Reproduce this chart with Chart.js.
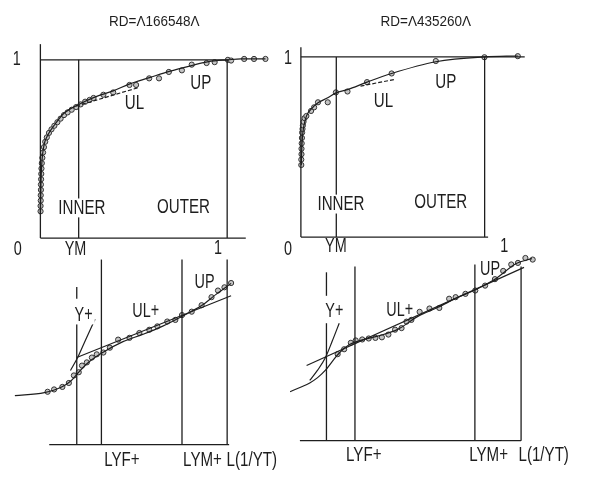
<!DOCTYPE html>
<html>
<head>
<meta charset="utf-8">
<script src="https://cdn.jsdelivr.net/npm/chart.js@4"></script>
<style>
html, body { margin: 0; background: #fff; }
#wrap { position: relative; width: 589px; height: 479px; }
#wrap canvas { position: absolute; left: 0; top: 0; }
</style>
</head>
<body>
<div id="wrap">
  <canvas id="tl" width="589" height="479"></canvas>
  <canvas id="tr" width="589" height="479"></canvas>
  <canvas id="bl" width="589" height="479"></canvas>
  <canvas id="br" width="589" height="479"></canvas>
</div>
<script>
// top left: RD=166548, normalised Y vs U
var tlCurveX = [0, 0.003, 0.008, 0.02, 0.04, 0.077, 0.132, 0.214, 0.297, 0.407, 0.5, 0.61, 0.72, 0.846, 0.94, 1.049, 1.121, 1.258];
var tlCurveY = [0.13, 0.30, 0.42, 0.52, 0.575, 0.632, 0.70, 0.749, 0.788, 0.826, 0.865, 0.90, 0.935, 0.968, 0.99, 1.0, 1.005, 1.005];
var tlPtsX = [0.001, 0.001, 0.002, 0.002, 0.003, 0.003, 0.004, 0.005, 0.006, 0.008, 0.011, 0.015, 0.02, 0.027, 0.036, 0.048, 0.062, 0.078, 0.095, 0.113, 0.132, 0.152, 0.175, 0.2, 0.225, 0.25, 0.275,
              0.297, 0.352, 0.407, 0.498, 0.535, 0.608, 0.663, 0.718, 0.791, 0.846, 0.929, 0.974, 1.048, 1.066, 1.139, 1.194, 1.258];
var tlPtsY = [0.15, 0.18, 0.21, 0.24, 0.27, 0.30, 0.33, 0.36, 0.39, 0.42, 0.45, 0.48, 0.51, 0.54, 0.565, 0.59, 0.61, 0.63, 0.65, 0.67, 0.69, 0.705, 0.72, 0.735, 0.75, 0.765, 0.775,
              0.786, 0.804, 0.817, 0.859, 0.859, 0.896, 0.896, 0.932, 0.941, 0.973, 0.982, 0.987, 1.0, 0.996, 1.005, 1.005, 1.005];
var tlUlX = [0.2, 0.55];
var tlUlY = [0.74, 0.845];

// top right: RD=435260
var trCurveX = [0.002, 0.004, 0.008, 0.015, 0.028, 0.052, 0.084, 0.132, 0.173, 0.229, 0.325, 0.446, 0.663, 0.902, 1.066];
var trCurveY = [0.40, 0.48, 0.56, 0.62, 0.674, 0.712, 0.745, 0.773, 0.80, 0.818, 0.86, 0.908, 0.973, 1.0, 1.005];
var trPtsX = [0.002, 0.002, 0.003, 0.003, 0.004, 0.005, 0.006, 0.008, 0.01, 0.013, 0.018, 0.027, 0.05, 0.065, 0.084, 0.132, 0.172, 0.229, 0.325, 0.446, 0.663, 0.902, 1.066];
var trPtsY = [0.40, 0.43, 0.46, 0.49, 0.52, 0.55, 0.58, 0.60, 0.62, 0.64, 0.66, 0.672, 0.70, 0.72, 0.748, 0.748, 0.803, 0.808, 0.86, 0.908, 0.977, 0.998, 1.004];
var trUlX = [0.293, 0.462];
var trUlY = [0.838, 0.875];

// bottom left: log plot, Y+ / UL+ / UP fits
var blCurveX = [-0.191, -0.027, 0.066, 0.12, 0.164, 0.219, 0.29, 0.41, 0.519, 0.628, 0.738, 0.847, 0.929, 1.011];
var blCurveY = [0.273, 0.29, 0.32, 0.355, 0.405, 0.46, 0.51, 0.575, 0.615, 0.66, 0.716, 0.776, 0.84, 0.9];
var blPtsX = [-0.009, 0.027, 0.073, 0.109, 0.137, 0.164, 0.182, 0.209, 0.237, 0.264, 0.301, 0.337, 0.383, 0.446, 0.501, 0.556, 0.601, 0.656, 0.701, 0.738, 0.792, 0.847, 0.902, 0.938, 0.974, 1.011];
var blPtsY = [0.295, 0.308, 0.322, 0.344, 0.386, 0.404, 0.441, 0.459, 0.486, 0.504, 0.514, 0.541, 0.586, 0.596, 0.623, 0.641, 0.66, 0.687, 0.696, 0.723, 0.742, 0.778, 0.823, 0.86, 0.878, 0.902];
var blUlX = [0.153, 1.011];
var blUlY = [0.486, 0.831];
var blYX = [0.118, 0.158, 0.2, 0.255];
var blYY = [0.414, 0.486, 0.58, 0.70];

// bottom right
var brCurveX = [-0.05, 0, 0.05, 0.09, 0.13, 0.165, 0.2, 0.25, 0.3, 0.4, 0.5, 0.6, 0.7, 0.8, 0.9, 1.0, 1.1, 1.18];
var brCurveY = [0.25, 0.272, 0.295, 0.322, 0.36, 0.405, 0.448, 0.49, 0.51, 0.535, 0.57, 0.635, 0.68, 0.73, 0.775, 0.83, 0.905, 0.93];
var brPtsX = [0.192, 0.225, 0.259, 0.284, 0.317, 0.35, 0.384, 0.417, 0.45, 0.484, 0.517, 0.542, 0.567, 0.609, 0.659, 0.709, 0.759, 0.792, 0.842, 0.892, 0.942, 0.992, 1.034, 1.075, 1.109, 1.147, 1.184];
var brPtsY = [0.442, 0.467, 0.5, 0.512, 0.517, 0.522, 0.525, 0.528, 0.542, 0.567, 0.575, 0.608, 0.617, 0.658, 0.675, 0.678, 0.725, 0.733, 0.75, 0.767, 0.792, 0.825, 0.867, 0.9, 0.908, 0.933, 0.925];
var brUlX = [0.034, 1.14];
var brUlY = [0.384, 0.885];
var brYX = [0.05, 0.09, 0.13, 0.165, 0.2];
var brYY = [0.308, 0.36, 0.425, 0.51, 0.6];

// frame lines per panel: [x1, y1, x2, y2]
var tlGuides = [[0, 0, 0, 1.088], [0, 0, 1.148, 0], [0, 1, 1.049, 1], [0.214, 0, 0.214, 1], [1.044, 0, 1.044, 1]];
var trGuides = [[0, 0, 0, 1.054], [0, 0, 0.92, 0], [0, 1, 1.1, 1], [0.174, 0, 0.174, 1], [0.903, 0, 0.903, 1]];
var blGuides = [[0, 0, 1.0, 0], [0.153, 0, 0.153, 0.689], [0.153, 0.814, 0.153, 0.88], [0.29, 0, 0.29, 1.033], [0.738, 0, 0.738, 1.033], [0.989, 0, 0.989, 1.033]];
var brGuides = [[0, 0, 1.125, 0], [0.135, 0, 0.135, 0.6], [0.135, 0.74, 0.135, 0.86], [0.28, 0, 0.28, 0.89], [0.89, 0, 0.89, 0.9], [1.125, 0, 1.125, 0.89]];

// text: [label, x, y, size, white box, x squeeze]
var tlTexts = [['RD=\u039b166548\u039b', 0.637, 1.214, 15, false, 0.9], ['1', -0.132, 1.0, 20], ['0', -0.126, -0.066, 20], ['YM', 0.196, -0.066, 20], ['1', 0.993, -0.057, 20],
               ['INNER', 0.232, 0.169, 21, true], ['OUTER', 0.8, 0.172, 21, true], ['UL', 0.526, 0.754, 21], ['UP', 0.897, 0.868, 21]];
var trTexts = [['RD=\u039b435260\u039b', 0.614, 1.196, 15, false, 0.9], ['1', -0.063, 0.99, 20], ['0', -0.063, -0.07, 20], ['YM', 0.172, -0.053, 20], ['1', 1.0, -0.053, 20],
               ['INNER', 0.197, 0.183, 21, true], ['OUTER', 0.687, 0.192, 21, true], ['UL', 0.406, 0.754, 21], ['UP', 0.712, 0.862, 21]];
var blTexts = [['Y+', 0.191, 0.721, 20, true], ['UL+', 0.536, 0.743, 20], ['UP', 0.863, 0.907, 20],
               ['LYF+', 0.404, -0.087, 21], ['LYM+', 0.852, -0.087, 21], ['L(1/YT)', 1.126, -0.087, 21]];
var brTexts = [['Y+', 0.175, 0.658, 20, true], ['UL+', 0.508, 0.667, 20], ['UP', 0.967, 0.875, 20],
               ['LYF+', 0.325, -0.075, 21], ['LYM+', 0.96, -0.075, 21], ['L(1/YT)', 1.24, -0.075, 21]];

var INK = '#1e1e1e';

function pts(xs, ys) {
  return xs.map(function(x, i) { return {x: x, y: ys[i]}; });
}
function lineSet(data, opts) {
  var d = {data: data, showLine: true, pointRadius: 0, borderColor: INK, borderWidth: 1.2, tension: 0, clip: false};
  for (var k in opts) d[k] = opts[k];
  return d;
}
function textPlugin(items) {
  return {
    id: 'texts',
    afterDatasetsDraw: function(chart) {
      var c = chart.ctx, sx = chart.scales.x, sy = chart.scales.y;
      items.forEach(function(t) {
        c.save();
        c.translate(sx.getPixelForValue(t[1]), sy.getPixelForValue(t[2]));
        c.scale(t[5] || 0.72, 1);
        c.font = t[3] + 'px "Liberation Sans", Arial, sans-serif';
        c.textAlign = 'center';
        c.textBaseline = 'middle';
        if (t[4]) {
          var w = c.measureText(t[0]).width;
          c.fillStyle = '#fff';
          c.fillRect(-w / 2 - 3, -t[3] * 0.45, w + 6, t[3] * 0.9);
        }
        c.fillStyle = INK;
        c.fillText(t[0], 0, 0);
        c.restore();
      });
    }
  };
}

// x0,y0 = pixel of data origin; sx,sy = pixels per unit
function panel(id, x0, y0, sx, sy, p) {
  var ds = [];
  p.guides.forEach(function(g) {
    ds.push(lineSet([{x: g[0], y: g[1]}, {x: g[2], y: g[3]}], {borderWidth: 1.3}));
  });
  ds.push(lineSet(pts(p.curveX, p.curveY), {cubicInterpolationMode: 'monotone'}));
  p.extra.forEach(function(e) { ds.push(lineSet(pts(e[0], e[1]), e[2] || {})); });
  ds.push({
    data: pts(p.ptsX, p.ptsY), showLine: false, clip: false,
    pointRadius: 2.6, pointBorderWidth: 1, pointBorderColor: '#333', pointBackgroundColor: '#c4c4c4'
  });
  return new Chart(document.getElementById(id), {
    type: 'scatter',
    data: {datasets: ds},
    options: {
      responsive: false, animation: false, events: [],
      layout: {padding: 0},
      plugins: {legend: {display: false}, tooltip: {enabled: false}},
      scales: {
        x: {type: 'linear', display: false, min: -x0 / sx, max: (589 - x0) / sx},
        y: {type: 'linear', display: false, min: -(479 - y0) / sy, max: y0 / sy}
      }
    },
    plugins: [textPlugin(p.texts)]
  });
}

panel('tl', 36, 238, 182, 182, {
  guides: tlGuides, curveX: tlCurveX, curveY: tlCurveY, ptsX: tlPtsX, ptsY: tlPtsY, texts: tlTexts,
  extra: [[tlUlX, tlUlY, {borderDash: [4, 2]}]]
});
panel('tr', 301, 237, 207, 184, {
  guides: trGuides, curveX: trCurveX, curveY: trCurveY, ptsX: trPtsX, ptsY: trPtsY, texts: trTexts,
  extra: [[trUlX, trUlY, {borderDash: [4, 2]}]]
});
panel('bl', 45, 449, 183, 183, {
  guides: blGuides, curveX: blCurveX, curveY: blCurveY, ptsX: blPtsX, ptsY: blPtsY, texts: blTexts,
  extra: [[blUlX, blUlY], [blYX, blYY, {cubicInterpolationMode: 'monotone'}]]
});
panel('br', 300, 445, 200, 200, {
  guides: brGuides, curveX: brCurveX, curveY: brCurveY, ptsX: brPtsX, ptsY: brPtsY, texts: brTexts,
  extra: [[brUlX, brUlY], [brYX, brYY, {cubicInterpolationMode: 'monotone'}]]
});
</script>
</body>
</html>
